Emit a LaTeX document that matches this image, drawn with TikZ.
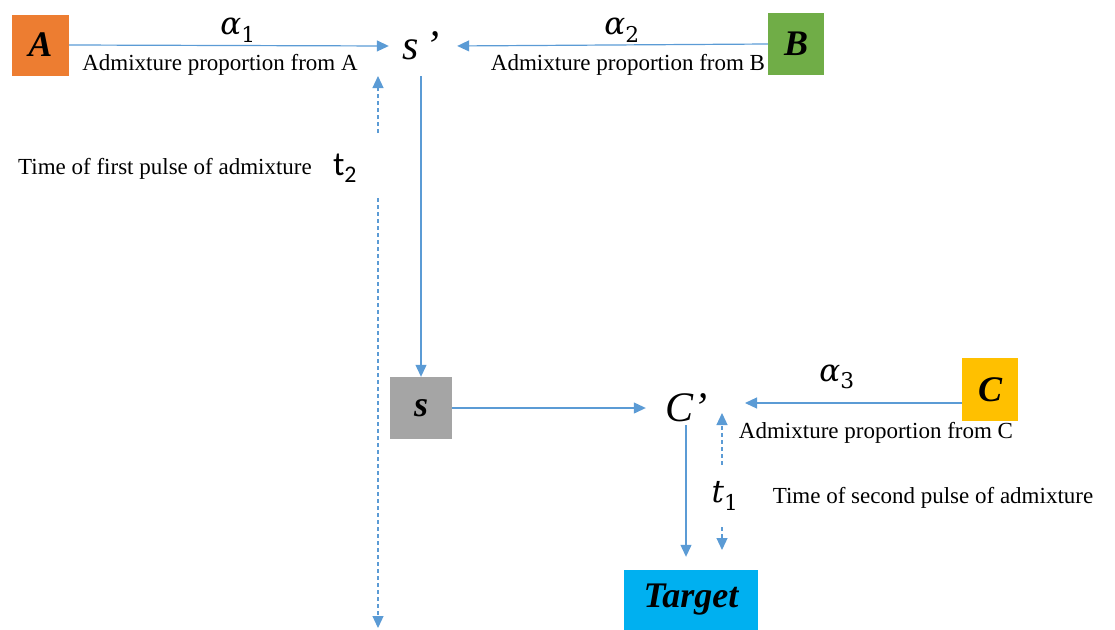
\documentclass[tikz,border=0pt]{standalone}
\usepackage{fontspec}
\setmainfont{Liberation Serif}
\newfontfamily\calib{Carlito}
\newfontfamily\mathlike{DejaVu Serif}
\usetikzlibrary{arrows.meta}
\definecolor{cA}{HTML}{ED7D31}
\definecolor{cB}{HTML}{70AD47}
\definecolor{cS}{HTML}{A5A5A5}
\definecolor{cC}{HTML}{FFC000}
\definecolor{cT}{HTML}{00B0F0}
\definecolor{ln}{HTML}{5B9BD5}
\tikzset{
  box/.style={rectangle, inner sep=0pt, font=\fontsize{36}{40}\selectfont\bfseries\itshape},
  arr/.style={draw=ln, line width=1.2pt, -{Triangle[length=12pt,width=11pt]}},
  darr/.style={draw=ln, line width=1.2pt, dash pattern=on 4pt off 3pt, -{Triangle[length=12pt,width=11pt]}},
  lbl/.style={inner sep=0pt, font=\fontsize{23}{27}\selectfont},
  alab/.style={inner sep=0pt, font=\fontsize{31}{35}\selectfont\mathlike\itshape},
}
\begin{document}
\begin{tikzpicture}[x=1pt,y=-1pt]
\useasboundingbox (0,0) rectangle (1115,629);
% boxes
\node[box, fill=cA, minimum width=57pt, minimum height=61pt] (A) at (40.5,45) {A};
\node[box, fill=cB, minimum width=56pt, minimum height=62pt] (B) at (796,44) {B};
\node[box, fill=cS, minimum width=62pt, minimum height=62pt] (s) at (421,408) {s};
\node[box, fill=cC, minimum width=56pt, minimum height=63pt] (C) at (990,389.5) {C};
\node[box, fill=cT, minimum width=134pt, minimum height=60pt] (T) at (691,600) {Target};
% intermediate nodes
\node[inner sep=0pt, minimum width=64pt, minimum height=60pt, font=\fontsize{42}{46}\selectfont\itshape] (sp) at (421,46) {s\,’};
\node[inner sep=0pt, minimum width=80pt, minimum height=34pt, font=\fontsize{42}{46}\selectfont\itshape] (Cp) at (686,408) {C’};
% labels
\node[alab] (a1) at (238,30) {α\textsubscript{\upshape 1}};
\node[alab] (a2) at (622,30) {α\textsubscript{\upshape 2}};
\node[alab] (a3) at (837,377) {α\textsubscript{\upshape 3}};
\node[lbl] (pA) at (220,65) {Admixture proportion from A};
\node[lbl] (pB) at (628,65) {Admixture proportion from B};
\node[lbl] (pC) at (876,433) {Admixture proportion from C};
\node[lbl] (tf) at (165,169) {Time of first pulse of admixture};
\node[lbl] (ts) at (933,498) {Time of second pulse of admixture};
\node[inner sep=0pt, font=\fontsize{34}{38}\selectfont\calib] (t2) at (345,168) {t\textsubscript{2}};
\node[alab, minimum height=62pt] (t1) at (725,496) {t\textsubscript{\upshape 1}};
% coordinates
\coordinate (c3) at (745,403);
\coordinate (t1top) at (722,413);
\coordinate (t1bot) at (722,550);
\coordinate (t2top) at (378,76);
\coordinate (t2a) at (378,133);
\coordinate (t2b) at (378,198);
\coordinate (t2bot) at (378,628);
% connectors
\draw[arr] (A.east) -- (sp.west);
\draw[arr, shorten >=4pt] (B.west) -- (sp.east);
\draw[arr] (sp.south) -- (s.north);
\draw[arr] (s.east) -- (Cp.west);
\draw[arr] (C.west |- c3) -- (c3);
\draw[arr, shorten >=13pt] (Cp.south) -- (Cp.south |- T.north);
\draw[darr] (t1.north -| t1top) -- (t1top);
\draw[darr] (t1.south -| t1bot) -- (t1bot);
\draw[darr] (t2a) -- (t2top);
\draw[darr] (t2b) -- (t2bot);
\end{tikzpicture}
\end{document}
